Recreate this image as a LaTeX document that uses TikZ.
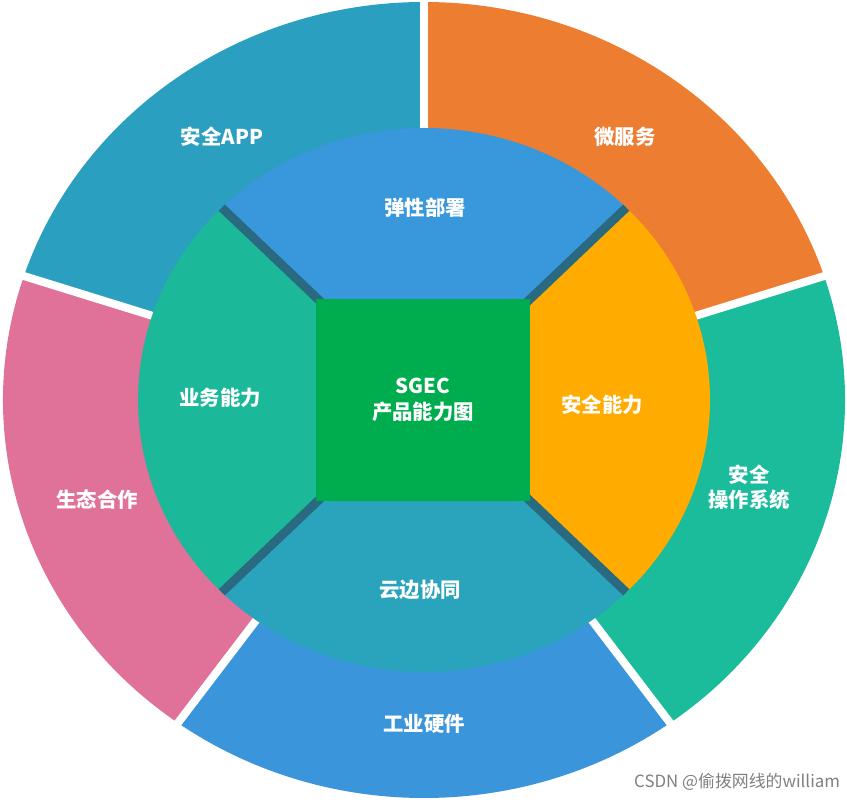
\documentclass[tikz,border=0pt]{standalone}
\usetikzlibrary{calc}
\usepackage{fontspec}
\setmainfont{Noto Sans CJK SC}
\definecolor{cApp}{HTML}{2B9FBF}
\definecolor{cMicro}{HTML}{ED7D31}
\definecolor{cOS}{HTML}{1ABC9C}
\definecolor{cHw}{HTML}{3A95DB}
\definecolor{cEco}{HTML}{E07198}
\definecolor{cDep}{HTML}{3997DB}
\definecolor{cSec}{HTML}{FFAB00}
\definecolor{cCloud}{HTML}{2AA3BD}
\definecolor{cBiz}{HTML}{1BB899}
\definecolor{cSq}{HTML}{00AD4E}
\definecolor{cGap}{HTML}{2A6A80}
\begin{document}
\begin{tikzpicture}[x=0.025cm,y=0.025cm,
  lbl/.style={text=white,font=\bfseries\fontsize{14.5}{18}\selectfont,align=center},
  gapw/.style={white,line width=0.2cm},
  gapd/.style={draw=cGap,line width=0.22cm}]
\useasboundingbox (0,0) rectangle (847,802);
\coordinate (c) at (424,402);
\def\sect#1#2#3#4#5{\fill[#1] (c) -- ++(#2:#4 and #5) arc[start angle=#2,end angle=#3,x radius=#4,y radius=#5] -- cycle;}
% outer ring
\sect{cApp}{90}{162}{421}{398}
\sect{cMicro}{18}{90}{421}{398}
\sect{cOS}{-54}{18}{421}{398}
\sect{cHw}{-126}{-54}{421}{398}
\sect{cEco}{162}{234}{421}{398}
\foreach \a [count=\i] in {90,18,-54,-126,162}{
  \coordinate (g\i) at ($(c)+(\a:430 and 410)$);
  \draw[gapw] (c) -- (g\i);}
% middle ring
\sect{cDep}{45}{135}{286}{272}
\sect{cSec}{-45}{45}{286}{272}
\sect{cCloud}{-135}{-45}{286}{272}
\sect{cBiz}{135}{225}{286}{272}
\foreach \a [count=\i] in {45,135,225,315}{
  \coordinate (m\i) at ($(c)+(\a:286 and 272)$);
  \draw[gapd] (c) -- (m\i);}
% center
\node[fill=cSq,minimum width=5.35cm,minimum height=5.05cm,inner sep=0] (sq) at (423,402) {};
\node[lbl] (t0) at (sq) {SGEC\\产品能力图};
\node[lbl] (t1) at (222,665) {安全APP};
\node[lbl] (t2) at (625,665) {微服务};
\node[lbl] (t3) at (425,594) {弹性部署};
\node[lbl] (t4) at (220,404) {业务能力};
\node[lbl] (t5) at (602,397) {安全能力};
\node[lbl] (t6) at (97,302) {生态合作};
\node[lbl] (t7) at (749,315) {安全\\操作系统};
\node[lbl] (t8) at (420,212) {云边协同};
\node[lbl] (t9) at (424,78) {工业硬件};
\node[text=gray,font=\fontsize{12}{14}\selectfont,anchor=east] (wm) at (845,20) {CSDN @偷拨网线的william};
\end{tikzpicture}
\end{document}
